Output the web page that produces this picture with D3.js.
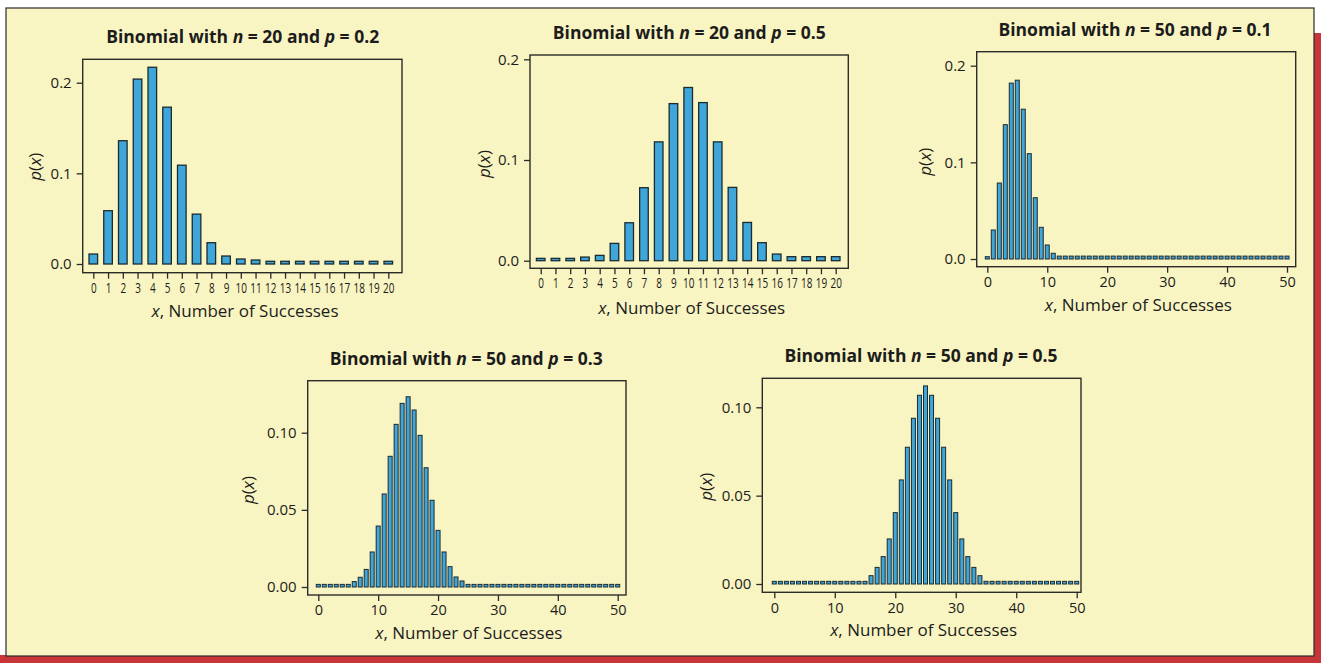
<!DOCTYPE html>
<html><head><meta charset="utf-8">
<script src="https://cdn.jsdelivr.net/npm/d3@7"></script>
<style>
html,body{margin:0;padding:0;background:#fff;}
svg{display:block;}
text{font-family:"Open Sans","Noto Sans",sans-serif;fill:#1c1c1c;}
</style></head>
<body>
<svg id="c" width="1321" height="663"></svg>
<script>
// ---------- DATA ----------
const titles = [
  ["Binomial with ", "n", " = 20 and ", "p", " = 0.2"],
  ["Binomial with ", "n", " = 20 and ", "p", " = 0.5"],
  ["Binomial with ", "n", " = 50 and ", "p", " = 0.1"],
  ["Binomial with ", "n", " = 50 and ", "p", " = 0.3"],
  ["Binomial with ", "n", " = 50 and ", "p", " = 0.5"]
];
const xTitle = "Number of Successes";
const yTitle = "p(x)";

const xTicks20 = [0,1,2,3,4,5,6,7,8,9,10,11,12,13,14,15,16,17,18,19,20];
const xTicks50 = [0,10,20,30,40,50];
const yTicksA = [0.0, 0.1, 0.2];
const yTickLabelsA = ["0.0","0.1","0.2"];
const yTicksB = [0.00, 0.05, 0.10];
const yTickLabelsB = ["0.00","0.05","0.10"];

const p_n20_p02 = [0.011,0.0588,0.136,0.204,0.217,0.173,0.109,0.055,0.0235,0.0088,0.0055,
  0.0044,0.003,0.003,0.003,0.003,0.003,0.003,0.003,0.003,0.003];
const p_n20_p05 = [0.0023,0.0023,0.0023,0.0036,0.0053,0.0172,0.0377,0.0725,0.118,0.156,0.172,
  0.157,0.118,0.0728,0.038,0.0179,0.0066,0.004,0.004,0.004,0.004];
const p_n50_p01 = [0.0024,0.030,0.0786,0.139,0.182,0.185,0.155,0.109,0.0634,0.0328,0.0145,
  0.0059,0.003,0.003,0.003,0.003,0.003,0.003,0.003,0.003,0.003,
  0.003,0.003,0.003,0.003,0.003,0.003,0.003,0.003,0.003,0.003,
  0.003,0.003,0.003,0.003,0.003,0.003,0.003,0.003,0.003,0.003,
  0.003,0.003,0.003,0.003,0.003,0.003,0.003,0.003,0.003,0.003];
const p_n50_p03 = [0.0017,0.0017,0.0017,0.0017,0.0017,0.0017,0.0035,0.0063,0.0114,0.0227,0.0395,
  0.0603,0.0847,0.1054,0.119,0.1233,0.1147,0.0983,0.0773,0.0562,0.0367,
  0.0227,0.0132,0.0065,0.0039,0.0017,0.0017,0.0017,0.0017,0.0017,0.0017,
  0.0017,0.0017,0.0017,0.0017,0.0017,0.0017,0.0017,0.0017,0.0017,0.0017,
  0.0017,0.0017,0.0017,0.0017,0.0017,0.0017,0.0017,0.0017,0.0017,0.0017];
const p_n50_p05 = [0.0015,0.0015,0.0015,0.0015,0.0015,0.0015,0.0015,0.0015,0.0015,0.0015,0.0015,
  0.0015,0.0015,0.0015,0.0015,0.0015,0.0047,0.0094,0.0155,0.0255,0.0404,
  0.0589,0.0774,0.0938,0.1068,0.1121,0.1068,0.0938,0.0774,0.0589,0.0404,
  0.0255,0.0155,0.0094,0.0047,0.0015,0.0015,0.0015,0.0015,0.0015,0.0015,
  0.0015,0.0015,0.0015,0.0015,0.0015,0.0015,0.0015,0.0015,0.0015,0.0015];

// ---------- LAYOUT ----------
const panels = [
  {vals:p_n20_p02, xt:xTicks20, xMax:20, yt:yTicksA, ytl:yTickLabelsA, yMax:0.2,
   frame:[82.7,59.3,402,272.7], x0:93.3, x1:388.3, y0:264, y1:82.7, bw:8.6, sw:1.3,
   title:[242.7,42.7], xlab:[245,317.3], ylab:[34,166.7], xfs:14, digitW:5.7},
  {vals:p_n20_p05, xt:xTicks20, xMax:20, yt:yTicksA, ytl:yTickLabelsA, yMax:0.2,
   frame:[530,55,848.3,268.3], x0:540.7, x1:835.7, y0:260.7, y1:59.3, bw:8.6, sw:1.3,
   title:[689.3,39.3], xlab:[691.7,314.3], ylab:[483.3,164], xfs:14, digitW:5.7},
  {vals:p_n50_p01, xt:xTicks50, xMax:50, yt:yTicksA, ytl:yTickLabelsA, yMax:0.2,
   frame:[976.7,51.7,1295.7,266.7], x0:987.3, x1:1287, y0:259, y1:65.7, bw:4.0, sw:1,
   title:[1135,36], xlab:[1138.3,311], ylab:[923.7,161.7], xfs:14.5, digitW:0},
  {vals:p_n50_p03, xt:xTicks50, xMax:50, yt:yTicksB, ytl:yTickLabelsB, yMax:0.1,
   frame:[307.7,380.7,626,595], x0:318.3, x1:617.7, y0:587, y1:432.7, bw:4.0, sw:1,
   title:[466.3,365], xlab:[468.8,639.3], ylab:[246.7,490], xfs:14.5, digitW:0},
  {vals:p_n50_p05, xt:xTicks50, xMax:50, yt:yTicksB, ytl:yTickLabelsB, yMax:0.1,
   frame:[762.3,378.3,1081,592.3], x0:774.3, x1:1076.7, y0:584, y1:407.3, bw:4.0, sw:1,
   title:[921,361.7], xlab:[923.7,636], ylab:[705,486.7], xfs:14.5, digitW:0}
];

const svg = d3.select("#c");
// page background
svg.append("rect").attr("x",0).attr("y",0).attr("width",1321).attr("height",663).attr("fill","#ffffff");
svg.append("rect").attr("x",1314).attr("y",33).attr("width",7).attr("height",630).attr("fill","#c73538");
svg.append("rect").attr("x",0).attr("y",655).attr("width",1321).attr("height",8).attr("fill","#c73538");
svg.append("rect").attr("x",6).attr("y",8).attr("width",1308).attr("height",648).attr("fill","#f9f5c2")
   .attr("stroke","#2a2a2a").attr("stroke-width",1.2);

panels.forEach((P, k) => {
  const g = svg.append("g");
  const x = d3.scaleLinear().domain([0, P.xMax]).range([P.x0, P.x1]);
  const y = d3.scaleLinear().domain([0, P.yMax]).range([P.y0, P.y1]);
  const [fl, ft, fr, fb] = P.frame;

  // bars
  g.selectAll("rect.bar").data(P.vals).join("rect")
    .attr("class","bar")
    .attr("x",(d,i)=>x(i)-P.bw/2)
    .attr("width",P.bw)
    .attr("y",d=>y(d))
    .attr("height",d=>Math.max(0.6, y(0)-y(d)))
    .attr("fill","#3ea6d8")
    .attr("stroke","#1d2a30")
    .attr("stroke-width",P.sw);

  // frame
  g.append("rect").attr("x",fl).attr("y",ft).attr("width",fr-fl).attr("height",fb-ft)
    .attr("fill","none").attr("stroke","#2b2b2b").attr("stroke-width",1.4);

  // y axis
  const ya = g.append("g").attr("transform",`translate(${fl},0)`)
    .call(d3.axisLeft(y).tickValues(P.yt).tickFormat((d,i)=>P.ytl[i]).tickSize(6).tickPadding(5).tickSizeOuter(0));
  ya.select(".domain").remove();
  ya.selectAll("line").attr("stroke","#2b2b2b").attr("stroke-width",1.3);
  ya.selectAll("text").attr("font-size",15).attr("fill","#1c1c1c")
    .style("font-family","'Open Sans','Noto Sans',sans-serif");

  // x axis
  const xa = g.append("g").attr("transform",`translate(0,${fb})`)
    .call(d3.axisBottom(x).tickValues(P.xt).tickFormat(d3.format("d")).tickSize(6).tickPadding(4).tickSizeOuter(0));
  xa.select(".domain").remove();
  xa.selectAll("line").attr("stroke","#2b2b2b").attr("stroke-width",1.3);
  const xt = xa.selectAll("text").attr("font-size",P.xfs).attr("fill","#1c1c1c")
    .style("font-family","'Open Sans','Noto Sans',sans-serif");
  if (P.digitW > 0) {
    xt.attr("textLength", d => String(d).length * P.digitW).attr("lengthAdjust","spacingAndGlyphs");
  }

  // title
  const t = g.append("text").attr("x",P.title[0]).attr("y",P.title[1])
    .attr("text-anchor","middle").attr("font-size",17).attr("font-weight","bold")
    .attr("textLength",273).attr("lengthAdjust","spacingAndGlyphs");
  titles[k].forEach((s, j) => {
    t.append("tspan").text(s).attr("font-style", (j===1||j===3) ? "italic" : "normal");
  });

  // x title
  const xl = g.append("text").attr("x",P.xlab[0]).attr("y",P.xlab[1])
    .attr("text-anchor","middle").attr("font-size",17)
    .attr("textLength",187).attr("lengthAdjust","spacingAndGlyphs");
  xl.append("tspan").attr("font-style","italic").text("x");
  xl.append("tspan").text(", " + xTitle);

  // y title
  const yl = g.append("text")
    .attr("transform",`translate(${P.ylab[0]},${P.ylab[1]}) rotate(-90)`)
    .attr("text-anchor","middle").attr("dominant-baseline","central").attr("font-size",17);
  yl.append("tspan").attr("font-style","italic").text("p");
  yl.append("tspan").text("(");
  yl.append("tspan").attr("font-style","italic").text("x");
  yl.append("tspan").text(")");
});
</script>
</body></html>
